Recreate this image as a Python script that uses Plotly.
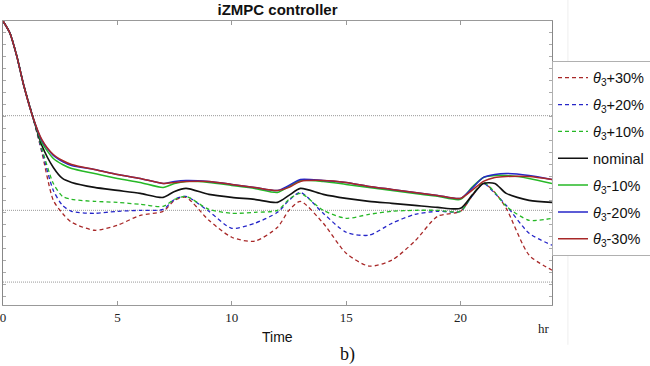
import plotly.graph_objects as go

# time samples (hr)
time_hr = [0, 0.3, 0.6, 0.9, 1.3, 1.7, 2.2, 2.6, 3, 4, 5, 6, 7, 7.5, 8, 9, 10, 11, 12,
           12.5, 13, 14, 15, 16, 17, 18, 19, 20, 20.5, 21, 21.5, 22, 23, 24]

# output (arbitrary units)
theta_p30 = [285, 273, 250, 221, 189, 153, 105, 92, 83, 75, 80, 90, 94, 105, 108, 85, 68, 64, 78,
             95, 104, 82, 52, 39, 45, 64, 89, 94, 109, 122, 113, 97, 50, 35]
theta_p20 = [285, 273, 250, 221, 189, 155, 115, 100, 94, 92, 94, 95, 96, 106, 109, 94, 77, 82, 93,
             105, 113, 92, 73, 70, 82, 91, 94, 94, 109, 122, 112, 100, 72, 60]
theta_p10 = [285, 273, 250, 221, 189, 157, 122, 109, 106, 104, 103, 101, 99, 106, 109, 96, 92, 93, 95,
             106, 112, 95, 87, 91, 94, 95, 95, 94, 110, 123, 113, 99, 85, 87]
nominal = [285, 273, 250, 221, 189, 160, 138, 127, 123, 118, 115, 112, 108, 114, 117, 111, 108, 106, 103,
           110, 117, 111, 107, 104, 102, 100, 98, 97, 110, 122, 122, 112, 105, 103]
theta_m10 = [285, 273, 250, 221, 189, 163, 147, 141, 137, 132, 127, 123, 118, 122, 124, 123, 120, 117, 113,
             119, 125, 124, 121, 118, 115, 112, 109, 106, 118, 128, 130, 130, 127, 122]
theta_m20 = [285, 273, 250, 221, 189, 165, 150, 144, 140, 136, 131, 127, 122, 124, 125, 124, 121, 118, 115,
             120, 126, 125, 123, 119, 116, 113, 110, 107, 117, 128, 131, 132, 130, 126]
theta_m30 = [285, 273, 250, 221, 189, 166, 151, 145, 141, 136, 131, 127, 122, 123, 124, 124, 121, 118, 115,
             118, 124, 125, 123, 119, 116, 113, 110, 107, 115, 124, 128, 129, 129, 126]

ref_levels = [190, 95, 23]
x_ticks = [0, 5, 10, 15, 20]

series_names = ["<i>θ</i><sub>3</sub>+30%", "<i>θ</i><sub>3</sub>+20%", "<i>θ</i><sub>3</sub>+10%",
                "nominal", "<i>θ</i><sub>3</sub>-10%", "<i>θ</i><sub>3</sub>-20%", "<i>θ</i><sub>3</sub>-30%"]
series_vals = [theta_p30, theta_p20, theta_p10, nominal, theta_m10, theta_m20, theta_m30]
colors = ["#a82828", "#2626c8", "#26b826", "#111111", "#26b826", "#2626c8", "#a82828"]
dashes = ["4px,3px", "4px,3px", "4px,3px", "solid", "solid", "solid", "solid"]
widths = [1.3, 1.3, 1.3, 1.6, 1.5, 1.5, 1.5]

fig = go.Figure()
for i, (name, vals, c, d, w) in enumerate(zip(series_names, series_vals, colors, dashes, widths)):
    fig.add_trace(go.Scatter(x=time_hr, y=vals, mode="lines", name=name, legendgroup=f"g{i}",
                             line=dict(color=c, dash=d, width=w, shape="spline", smoothing=0.7)))

for lv in ref_levels:
    fig.add_shape(type="line", xref="paper", x0=0, x1=1, yref="y", y0=lv, y1=lv,
                  line=dict(color="#999999", width=1, dash="1px,1px"), layer="below")

# faint panel edge on the right
fig.add_shape(type="line", xref="paper", yref="paper", x0=1.029, x1=1.029, y0=-0.14, y1=1.08,
              line=dict(color="#eeeeee", width=1))

fig.update_layout(
    width=650, height=366,
    margin=dict(l=3, r=98, t=21, b=61, autoexpand=False),
    paper_bgcolor="white", plot_bgcolor="white",
    title=dict(text="<b>iZMPC controller</b>", x=0.5, xref="paper", y=0.973, yanchor="middle",
               font=dict(family="Liberation Sans, Arial", size=15, color="#111")),
    showlegend=True,
    legend=dict(x=1.0, xanchor="left", y=0.86, yanchor="top",
                bgcolor="white", bordercolor="#b0b0b0", borderwidth=1,
                font=dict(family="Liberation Sans, Arial", size=14.5, color="#111"),
                tracegroupgap=5),
    xaxis=dict(range=[0, 24], tickvals=x_ticks, ticks="inside", ticklen=4, tickcolor="#999",
               showline=True, linecolor="#999", linewidth=1, mirror="ticks", showgrid=False,
               zeroline=False, ticklabeloverflow="allow",
               tickfont=dict(family="Liberation Serif, Times New Roman", size=13, color="#222")),
    yaxis=dict(range=[0, 285], tick0=9, dtick=12, ticks="inside", ticklen=3, tickcolor="#aaa",
               showticklabels=False, showline=True, linecolor="#888", linewidth=1, mirror="ticks",
               showgrid=False, zeroline=False),
    annotations=[
        dict(text="Time", xref="paper", yref="paper", x=0.5, y=-0.113, showarrow=False,
             xanchor="center", yanchor="middle",
             font=dict(family="Liberation Sans, Arial", size=14, color="#111")),
        dict(text="hr", xref="paper", yref="paper", x=0.985, y=-0.081, showarrow=False,
             xanchor="center", yanchor="middle",
             font=dict(family="Liberation Serif, Times New Roman", size=13, color="#222")),
        dict(text="b)", xref="paper", yref="paper", x=0.627, y=-0.176, showarrow=False,
             xanchor="center", yanchor="middle",
             font=dict(family="Liberation Serif, Times New Roman", size=18, color="#111")),
    ],
)

# remove the page's default body margin so the figure sits at the window's top-left corner
fig.write_html("out.html", config={"displayModeBar": False},
               post_script="document.body.style.margin='0';")
